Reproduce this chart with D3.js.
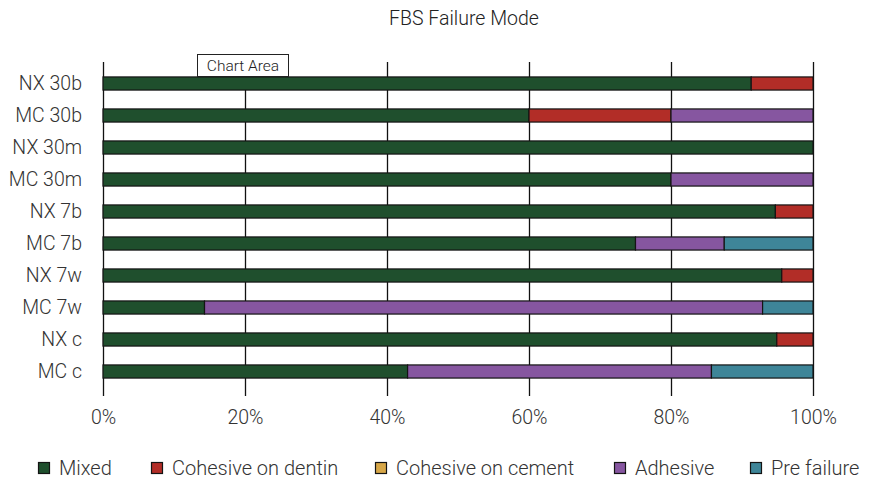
<!DOCTYPE html>
<html>
<head>
<meta charset="utf-8">
<script src="https://cdn.jsdelivr.net/npm/d3@7"></script>
<style>
  html, body { margin: 0; padding: 0; background: #fff; }
  svg { display: block; font-family: Roboto, "Open Sans", sans-serif; }
</style>
</head>
<body>
<svg id="chart" width="870" height="479"></svg>
<script>
// ---- data ----
const categories = ["NX 30b", "MC 30b", "NX 30m", "MC 30m", "NX 7b", "MC 7b", "NX 7w", "MC 7w", "NX c", "MC c"];
const seriesNames = ["Mixed", "Cohesive on dentin", "Cohesive on cement", "Adhesive", "Pre failure"];
const mixed            = [91.3, 60, 100, 80, 94.7, 75,   95.6, 14.3, 94.9, 42.9];
const cohesiveDentin   = [8.7,  20, 0,   0,  5.3,  0,    4.4,  0,    5.1,  0];
const cohesiveCement   = [0,    0,  0,   0,  0,    0,    0,    0,    0,    0];
const adhesive         = [0,    20, 0,   20, 0,    12.5, 0,    78.6, 0,    42.8];
const preFailure       = [0,    0,  0,   0,  0,    12.5, 0,    7.1,  0,    14.3];
const xTicks = [0, 20, 40, 60, 80, 100];
const colors = ["#1f4f2d", "#b22d27", "#d7a748", "#8656a0", "#3e8598"];

(function () {
const seriesValues = [mixed, cohesiveDentin, cohesiveCement, adhesive, preFailure];
const table = categories.map((c, i) => {
  const row = { cat: c };
  seriesNames.forEach((s, j) => row[s] = seriesValues[j][i]);
  return row;
});

const svg = d3.select("#chart");
const pLeft = 103, pRight = 813, pTop = 62, pBottom = 396;
const FS = 19.5;

const x = d3.scaleLinear().domain([0, 100]).range([pLeft, pRight]);
const y = d3.scaleBand().domain(categories).range([67.5, 387.5]).paddingInner(0.59).paddingOuter(0.295);
const color = d3.scaleOrdinal().domain(seriesNames).range(colors);

// title
svg.append("text")
  .attr("x", 464).attr("y", 25)
  .attr("text-anchor", "middle")
  .attr("font-size", 19.5).attr("font-weight", 300).attr("fill", "#222")
  .text("FBS Failure Mode");

// grid + x axis
const xAxis = d3.axisBottom(x).tickValues(xTicks).tickFormat(d => d + "%").tickSize(-(pBottom - pTop)).tickPadding(14);
const gx = svg.append("g").attr("transform", `translate(0,${pBottom})`).call(xAxis);
gx.select(".domain").remove();
gx.selectAll(".tick line").attr("stroke", "#111").attr("stroke-width", 1.3);
gx.selectAll(".tick text").attr("font-size", FS).attr("font-weight", 300).attr("fill", "#333")
  .attr("font-family", "Roboto, sans-serif");

// stacked bars
const stacked = d3.stack().keys(seriesNames)(table);
svg.append("g").selectAll("g")
  .data(stacked).join("g")
  .attr("fill", d => color(d.key))
  .selectAll("rect")
  .data(d => d.filter(v => v[1] - v[0] > 0))
  .join("rect")
  .attr("x", d => x(d[0]))
  .attr("width", d => x(d[1]) - x(d[0]))
  .attr("y", d => y(d.data.cat))
  .attr("height", y.bandwidth())
  .attr("stroke", "#141414")
  .attr("stroke-width", 1.2);

// y axis labels
const yAxis = d3.axisLeft(y).tickSize(0).tickPadding(21);
const gy = svg.append("g").attr("transform", `translate(${pLeft},0)`).call(yAxis);
gy.select(".domain").remove();
gy.selectAll(".tick text").attr("font-size", FS).attr("font-weight", 300).attr("fill", "#333")
  .attr("font-family", "Roboto, sans-serif");

// "Chart Area" tooltip box
const tip = svg.append("g");
tip.append("rect").attr("x", 197.5).attr("y", 54.5).attr("width", 91).attr("height", 22)
  .attr("fill", "#fff").attr("stroke", "#222").attr("stroke-width", 1);
tip.append("text").attr("x", 243).attr("y", 71).attr("text-anchor", "middle")
  .attr("font-size", 15.5).attr("font-weight", 300).attr("fill", "#222").text("Chart Area");

// legend
const legendX = [38, 151, 375, 614, 750];
const lg = svg.append("g").selectAll("g").data(seriesNames).join("g")
  .attr("transform", (d, i) => `translate(${legendX[i]},462)`);
lg.append("rect").attr("x", 0.5).attr("y", 0.5).attr("width", 11).attr("height", 11)
  .attr("fill", d => color(d)).attr("stroke", "#141414").attr("stroke-width", 1.2);
lg.append("text").attr("x", 21).attr("y", 13).attr("font-size", 20).attr("font-weight", 300)
  .attr("fill", "#333").text(d => d);
})();
</script>
</body>
</html>
